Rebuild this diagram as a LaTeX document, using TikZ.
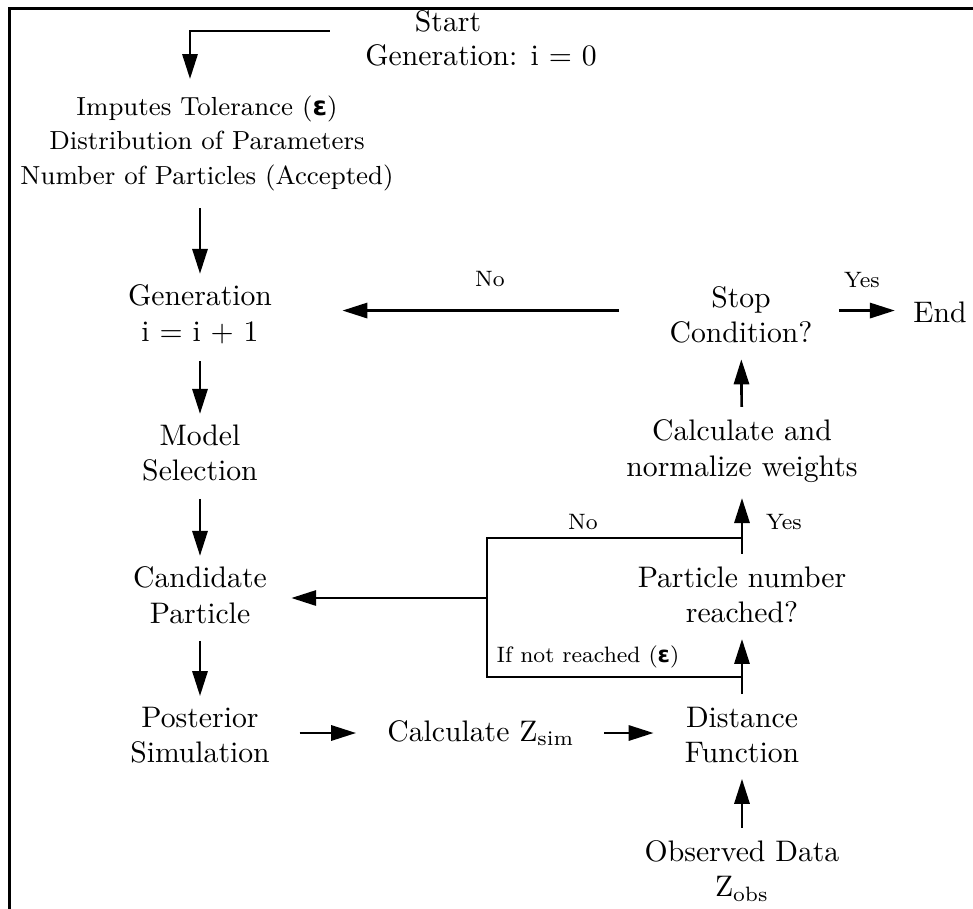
\documentclass[tikz,border=0pt]{standalone}
\usepackage{fontspec}
\newfontfamily\dejavu{DejaVu Sans}
\usetikzlibrary{arrows.meta,calc}
\newcommand\myeps{{\dejavu\bfseries ε}}
\begin{document}
\begin{tikzpicture}[x=0.3367pt,y=-0.3367pt,
  every node/.style={inner xsep=3.33pt, inner ysep=3.4pt},
  box/.style={align=center, font=\fontsize{10}{12}\selectfont},
  lbl/.style={font=\fontsize{7.5}{9}\selectfont, inner sep=0pt},
  arr/.style={-{Triangle[length=8.4pt,width=5.1pt]}, line width=0.9pt},
  ln/.style={line width=0.9pt},
  down/.style={arr, shorten <=2.3pt},
  up/.style={arr, shorten <=0.7pt, shorten >=1.7pt},
  harr/.style={arr, shorten <=6.5pt, shorten >=7pt},
  ]
\useasboundingbox (0,0) rectangle (973,909);
\draw[line width=0.95pt] (9.5,909) -- (9.5,8.7) -- (973,8.7);

% left column
\node[box] (start) at (448,21) {Start};
\node[box] (gen0) at (481,55) {Generation: i = 0};
\node[box, font=\fontsize{8.8}{11.6}\selectfont] (imp) at (207,143) {Imputes Tolerance (\myeps)\\Distribution of Parameters\\Number of Particles (Accepted)};
\node[box] (gen) at (200,314) {Generation\\i = i + 1};
\node[box] (model) at (200,453) {Model\\Selection};
\node[box] (cand) at (200,595) {Candidate\\Particle};
\node[box] (post) at (200,735) {Posterior\\Simulation};
\node[box] (calc) at (481,733) {Calculate $\mathrm{Z}_{\mathrm{sim}}$};

% right column
\node[box] (stop) at (741,315) {Stop\\Condition?};
\node[box] (end) at (940,312) {End};
\node[box] (calcw) at (742,451) {Calculate and\\normalize weights};
\node[box] (part) at (742,595) {Particle number\\reached?};
\node[box] (dist) at (742,735) {Distance\\Function};
\node[box] (obs) at (742,871) {Observed Data\\$\mathrm{Z}_{\mathrm{obs}}$};

% labels
\node[lbl] (no1) at (490,279) {No};
\node[lbl] (yes1) at (862,280) {Yes};
\node[lbl] (no2) at (583,522) {No};
\node[lbl] (yes2) at (784,522) {Yes};
\node[lbl] (ifnot) at (588,657) {If not reached (\myeps)};

% start connector
\coordinate (sA) at (330,31);
\coordinate (sB) at (190,79);
\draw[arr] (sA) -| (sB);

% vertical connectors
\draw[down] (gen.north |- imp.south) -- (gen.north);
\draw[down] (gen) -- (model);
\draw[down] (model) -- (cand);
\draw[down] (cand) -- (post);
\draw[up] (obs) -- (dist);
\draw[up] (dist) -- (part);
\draw[up] (part) -- (calcw);
\draw[up] (calcw) -- (stop);

% horizontal connectors
\draw[harr] (post.east |- calc.west) -- (calc.west);
\draw[harr] (calc.east) -- (dist.west |- calc.east);
\draw[arr, shorten <=13.5pt, shorten >=20.2pt] ([yshift=1.5pt]stop.west) -- ([yshift=1.5pt]gen.east |- stop.west);
\draw[arr, shorten <=5.4pt, shorten >=2.7pt] ([yshift=1.5pt]stop.east) -- ([yshift=1.5pt]end.west |- stop.east);

% loop
\coordinate (lt) at (742,538);
\coordinate (lb) at (742,677);
\coordinate (cTL) at (487,538);
\coordinate (cBL) at (487,677);
\coordinate (jl) at (487,598);
\draw[ln] (lt) -- (cTL) -- (cBL) -- (lb);
\draw[arr, shorten >=4.7pt] (jl) -- (jl -| cand.east);
\end{tikzpicture}
\end{document}
